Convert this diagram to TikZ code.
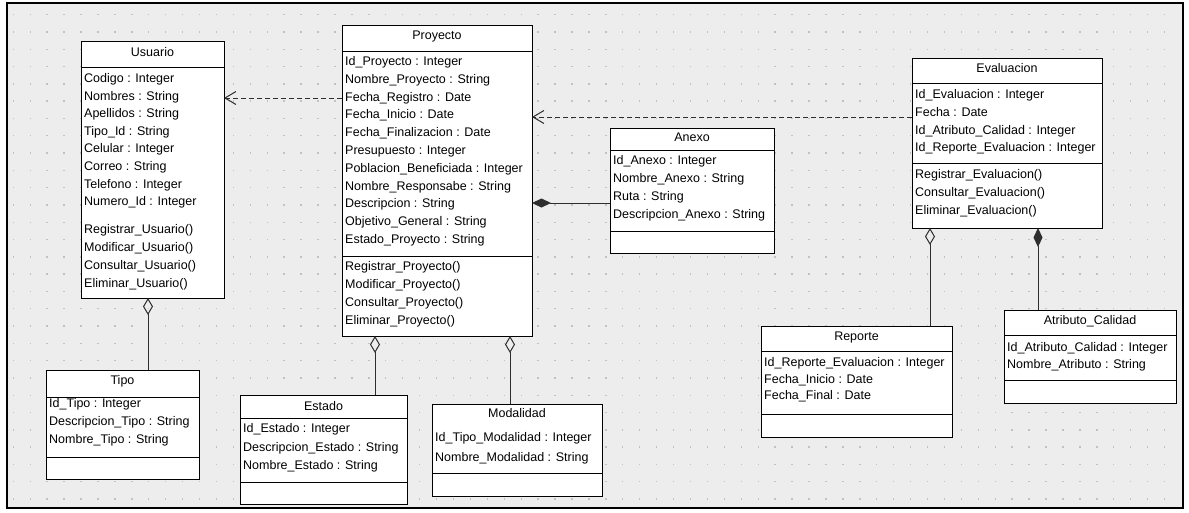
\documentclass[tikz,border=0pt]{standalone}
\usepackage{fontspec}
\setmainfont{Liberation Sans}
\usetikzlibrary{arrows.meta}

\definecolor{canvas}{HTML}{EDEDED}
\definecolor{griddot}{HTML}{C2C2C2}
\definecolor{wire}{HTML}{2E2E2E}
\newcommand\umlfont{\fontsize{12.5}{15}\selectfont}

\tikzset{
  classbox/.style={draw=black, fill=white, line width=1pt, inner sep=0pt, outer sep=0pt},
  sepline/.style={draw=black, line width=1pt},
  lbl/.style={anchor=base west, inner sep=0pt, font=\umlfont},
  ttl/.style={anchor=base, inner sep=0pt, font=\umlfont},
  link/.style={draw=wire, line width=1pt},
  dep/.style={link, dash pattern=on 5pt off 3pt, -{Straight Barb[length=11pt, width=13pt]}},
  agg/.style={link, {Diamond[open, length=17pt, width=10pt]}-},
  comp/.style={link, {Diamond[length=19pt, width=9pt]}-},
}

% a class rectangle given by its corners (x1,y1) and (x2,y2)
\newcommand\umlclass[5]{%
  \node[classbox, minimum width={(#4-#2)*1pt}, minimum height={(#5-#3)*1pt}]
    (#1) at ({(#2+#4)/2},{(#3+#5)/2}) {};}
% horizontal compartment line of a class
\newcommand\umlsep[2]{\draw[sepline] (#1.west |- 0,#2) -- (#1.east |- 0,#2);}
% class name, centred
\newcommand\umltitle[3]{%
  \pgfmathsetmacro\yy{#2+4.5}%
  \node[ttl] at (#1.center |- 0,\yy) {#3};}
% list of members: x, centre of first row, row step, entries
\newcommand\umlrows[4]{%
  \foreach \t [count=\i from 0] in {#4} {%
    \pgfmathsetmacro\yy{#2+\i*#3+4.5}%
    \node[lbl] at (#1,\yy) {\t};}}

\begin{document}
\begin{tikzpicture}[x=1pt, y=-1pt]
  \useasboundingbox (0,0) rectangle (1189,512);
  \fill[white] (0,0) rectangle (1189,512);

  % drawing sheet with dotted grid
  \fill[canvas] (7,3) rectangle (1183,508);
  \foreach \i in {0,...,68} {
    \foreach \j in {0,...,28} {
      \pgfmathsetmacro\gx{13.3+16.93*\i}
      \pgfmathsetmacro\gy{16+17.3*\j}
      \fill[griddot] (\gx-0.7,\gy-0.7) rectangle ++(1.4,-1.4);
    }
  }
  \draw[line width=2pt] (7,3) rectangle (1183,508);

  % ---------------- Usuario
  \umlclass{usuario}{81}{41}{224}{298}
  \umlsep{usuario}{67}
  \umltitle{usuario}{52}{Usuario}
  \umlrows{84}{78}{17.6}{Codigo : Integer, Nombres : String, Apellidos : String,
    Tipo\_Id : String, Celular : Integer, Correo : String, Telefono : Integer,
    Numero\_Id : Integer}
  \umlrows{84}{229}{18}{Registrar\_Usuario(), Modificar\_Usuario(),
    Consultar\_Usuario(), Eliminar\_Usuario()}

  % ---------------- Proyecto
  \umlclass{proyecto}{342}{25}{532}{336}
  \umlsep{proyecto}{51}
  \umlsep{proyecto}{256}
  \umltitle{proyecto}{35}{Proyecto}
  \umlrows{345}{61}{17.8}{Id\_Proyecto : Integer, Nombre\_Proyecto : String,
    Fecha\_Registro : Date, Fecha\_Inicio : Date, Fecha\_Finalizacion : Date,
    Presupuesto : Integer, Poblacion\_Beneficiada : Integer,
    Nombre\_Responsabe : String, Descripcion : String,
    Objetivo\_General : String, Estado\_Proyecto : String}
  \umlrows{345}{266}{18}{Registrar\_Proyecto(), Modificar\_Proyecto(),
    Consultar\_Proyecto(), Eliminar\_Proyecto()}

  % ---------------- Anexo
  \umlclass{anexo}{610}{128}{774}{253}
  \umlsep{anexo}{150}
  \umlsep{anexo}{231}
  \umltitle{anexo}{137}{Anexo}
  \umlrows{613}{160}{18}{Id\_Anexo : Integer, Nombre\_Anexo : String,
    Ruta : String, Descripcion\_Anexo : String}

  % ---------------- Evaluacion
  \umlclass{evaluacion}{912}{58}{1102}{228}
  \umlsep{evaluacion}{83}
  \umlsep{evaluacion}{163}
  \umltitle{evaluacion}{68}{Evaluacion}
  \umlrows{915}{94}{17.8}{Id\_Evaluacion : Integer, Fecha : Date,
    Id\_Atributo\_Calidad : Integer, Id\_Reporte\_Evaluacion : Integer}
  \umlrows{915}{174}{18}{Registrar\_Evaluacion(), Consultar\_Evaluacion(),
    Eliminar\_Evaluacion()}

  % ---------------- Tipo
  \umlclass{tipo}{46}{370}{199}{479}
  \umlsep{tipo}{397}
  \umlsep{tipo}{457}
  \umltitle{tipo}{380}{Tipo}
  \umlrows{49}{403}{18}{Id\_Tipo : Integer, Descripcion\_Tipo : String,
    Nombre\_Tipo : String}

  % ---------------- Estado
  \umlclass{estado}{240}{395}{407}{504}
  \umlsep{estado}{418}
  \umlsep{estado}{482}
  \umltitle{estado}{406}{Estado}
  \umlrows{243}{428}{18.5}{Id\_Estado : Integer, Descripcion\_Estado : String,
    Nombre\_Estado : String}

  % ---------------- Modalidad
  \umlclass{modalidad}{432}{404}{602}{496}
  \umlsep{modalidad}{473}
  \umltitle{modalidad}{413}{Modalidad}
  \umlrows{435}{437}{20}{Id\_Tipo\_Modalidad : Integer, Nombre\_Modalidad : String}

  % ---------------- Reporte
  \umlclass{reporte}{761}{326}{952}{437}
  \umlsep{reporte}{351}
  \umlsep{reporte}{414}
  \umltitle{reporte}{336}{Reporte}
  \umlrows{764}{362}{16.5}{Id\_Reporte\_Evaluacion : Integer,
    Fecha\_Inicio : Date, Fecha\_Final : Date}

  % ---------------- Atributo_Calidad
  \umlclass{atributo}{1004}{310}{1176}{403}
  \umlsep{atributo}{335}
  \umlsep{atributo}{380}
  \umltitle{atributo}{320}{Atributo\_Calidad}
  \umlrows{1007}{347}{16.5}{Id\_Atributo\_Calidad : Integer,
    Nombre\_Atributo : String}

  % ---------------- relations
  \draw[dep] (proyecto.west |- 0,98) -- (usuario.east |- 0,98);
  \draw[dep] (evaluacion.west |- 0,117) -- (proyecto.east |- 0,117);
  \draw[comp] (proyecto.east |- 0,203) -- (anexo.west |- 0,203);
  \draw[agg] (usuario.south -| 148,0) -- (tipo.north -| 148,0);
  \draw[agg] (proyecto.south -| 375,0) -- (estado.north -| 375,0);
  \draw[agg] (proyecto.south -| 510,0) -- (modalidad.north -| 510,0);
  \draw[agg] (evaluacion.south -| 930,0) -- (reporte.north -| 930,0);
  \draw[comp] (evaluacion.south -| 1038,0) -- (atributo.north -| 1038,0);
\end{tikzpicture}
\end{document}
